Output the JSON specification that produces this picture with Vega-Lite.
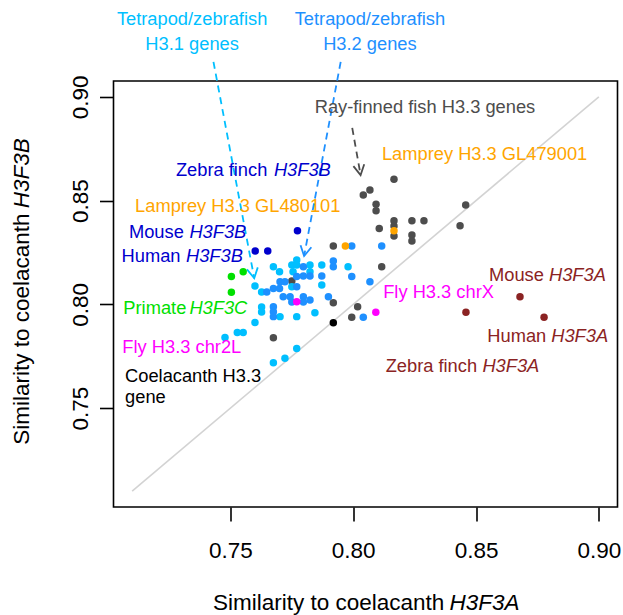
{
  "$schema": "https://vega.github.io/schema/vega-lite/v6.json",
  "width": 504,
  "height": 426,
  "autosize": {"type": "none"},
  "padding": {"left": 113.5, "top": 81, "right": 5.5, "bottom": 108},
  "background": "white",
  "config": {
    "view": {"stroke": "black", "strokeWidth": 1.6},
    "font": "Liberation Sans"
  },
  "datasets": {
    "points": [
      {"x": 0.7750, "y": 0.8113, "group": "Ray-finned fish H3.3"},
      {"x": 0.7675, "y": 0.7839, "group": "Ray-finned fish H3.3"},
      {"x": 0.7919, "y": 0.8008, "group": "Ray-finned fish H3.3"},
      {"x": 0.8018, "y": 0.7989, "group": "Ray-finned fish H3.3"},
      {"x": 0.7994, "y": 0.7938, "group": "Ray-finned fish H3.3"},
      {"x": 0.7919, "y": 0.8281, "group": "Ray-finned fish H3.3"},
      {"x": 0.8116, "y": 0.8181, "group": "Ray-finned fish H3.3"},
      {"x": 0.8041, "y": 0.8527, "group": "Ray-finned fish H3.3"},
      {"x": 0.8068, "y": 0.8551, "group": "Ray-finned fish H3.3"},
      {"x": 0.8093, "y": 0.8482, "group": "Ray-finned fish H3.3"},
      {"x": 0.8093, "y": 0.8451, "group": "Ray-finned fish H3.3"},
      {"x": 0.8166, "y": 0.8603, "group": "Ray-finned fish H3.3"},
      {"x": 0.8106, "y": 0.8366, "group": "Ray-finned fish H3.3"},
      {"x": 0.8166, "y": 0.8403, "group": "Ray-finned fish H3.3"},
      {"x": 0.8166, "y": 0.8378, "group": "Ray-finned fish H3.3"},
      {"x": 0.8166, "y": 0.8329, "group": "Ray-finned fish H3.3"},
      {"x": 0.8239, "y": 0.8403, "group": "Ray-finned fish H3.3"},
      {"x": 0.8288, "y": 0.8403, "group": "Ray-finned fish H3.3"},
      {"x": 0.8239, "y": 0.8334, "group": "Ray-finned fish H3.3"},
      {"x": 0.8239, "y": 0.8305, "group": "Ray-finned fish H3.3"},
      {"x": 0.8435, "y": 0.8379, "group": "Ray-finned fish H3.3"},
      {"x": 0.8458, "y": 0.8479, "group": "Ray-finned fish H3.3"},
      {"x": 0.7478, "y": 0.7841, "group": "H3.1"},
      {"x": 0.7528, "y": 0.7864, "group": "H3.1"},
      {"x": 0.7552, "y": 0.7864, "group": "H3.1"},
      {"x": 0.7600, "y": 0.8088, "group": "H3.1"},
      {"x": 0.7627, "y": 0.8060, "group": "H3.1"},
      {"x": 0.7600, "y": 0.7913, "group": "H3.1"},
      {"x": 0.7627, "y": 0.7987, "group": "H3.1"},
      {"x": 0.7627, "y": 0.7963, "group": "H3.1"},
      {"x": 0.7675, "y": 0.8181, "group": "H3.1"},
      {"x": 0.7700, "y": 0.8157, "group": "H3.1"},
      {"x": 0.7750, "y": 0.8190, "group": "H3.1"},
      {"x": 0.7770, "y": 0.8214, "group": "H3.1"},
      {"x": 0.7770, "y": 0.8190, "group": "H3.1"},
      {"x": 0.7755, "y": 0.8157, "group": "H3.1"},
      {"x": 0.7824, "y": 0.8190, "group": "H3.1"},
      {"x": 0.7872, "y": 0.8190, "group": "H3.1"},
      {"x": 0.7872, "y": 0.8093, "group": "H3.1"},
      {"x": 0.7750, "y": 0.8085, "group": "H3.1"},
      {"x": 0.7702, "y": 0.7941, "group": "H3.1"},
      {"x": 0.7770, "y": 0.7941, "group": "H3.1"},
      {"x": 0.7844, "y": 0.7960, "group": "H3.1"},
      {"x": 0.7770, "y": 0.7788, "group": "H3.1"},
      {"x": 0.7722, "y": 0.7740, "group": "H3.1"},
      {"x": 0.7675, "y": 0.7719, "group": "H3.1"},
      {"x": 0.7979, "y": 0.8181, "group": "H3.1"},
      {"x": 0.7824, "y": 0.8157, "group": "H3.1"},
      {"x": 0.7648, "y": 0.8060, "group": "H3.2"},
      {"x": 0.7675, "y": 0.8077, "group": "H3.2"},
      {"x": 0.7700, "y": 0.8077, "group": "H3.2"},
      {"x": 0.7702, "y": 0.8109, "group": "H3.2"},
      {"x": 0.7722, "y": 0.8109, "group": "H3.2"},
      {"x": 0.7675, "y": 0.7989, "group": "H3.2"},
      {"x": 0.7675, "y": 0.7965, "group": "H3.2"},
      {"x": 0.7675, "y": 0.7941, "group": "H3.2"},
      {"x": 0.7715, "y": 0.8037, "group": "H3.2"},
      {"x": 0.7743, "y": 0.8037, "group": "H3.2"},
      {"x": 0.7750, "y": 0.8011, "group": "H3.2"},
      {"x": 0.7797, "y": 0.8181, "group": "H3.2"},
      {"x": 0.7797, "y": 0.8137, "group": "H3.2"},
      {"x": 0.7824, "y": 0.8137, "group": "H3.2"},
      {"x": 0.7872, "y": 0.8137, "group": "H3.2"},
      {"x": 0.7770, "y": 0.8134, "group": "H3.2"},
      {"x": 0.7770, "y": 0.8085, "group": "H3.2"},
      {"x": 0.7797, "y": 0.8037, "group": "H3.2"},
      {"x": 0.7824, "y": 0.8021, "group": "H3.2"},
      {"x": 0.7797, "y": 0.8011, "group": "H3.2"},
      {"x": 0.7899, "y": 0.8037, "group": "H3.2"},
      {"x": 0.7919, "y": 0.8209, "group": "H3.2"},
      {"x": 0.7919, "y": 0.8181, "group": "H3.2"},
      {"x": 0.7994, "y": 0.8281, "group": "H3.2"},
      {"x": 0.8116, "y": 0.8281, "group": "H3.2"},
      {"x": 0.7994, "y": 0.8134, "group": "H3.2"},
      {"x": 0.8068, "y": 0.8109, "group": "H3.2"},
      {"x": 0.8041, "y": 0.7938, "group": "H3.2"},
      {"x": 0.7968, "y": 0.8281, "group": "Lamprey H3.3"},
      {"x": 0.8166, "y": 0.8355, "group": "Lamprey H3.3"},
      {"x": 0.7773, "y": 0.8355, "group": "H3F3B"},
      {"x": 0.7601, "y": 0.8257, "group": "H3F3B"},
      {"x": 0.7652, "y": 0.8257, "group": "H3F3B"},
      {"x": 0.7552, "y": 0.8157, "group": "H3F3C"},
      {"x": 0.7504, "y": 0.8134, "group": "H3F3C"},
      {"x": 0.7504, "y": 0.8058, "group": "H3F3C"},
      {"x": 0.7770, "y": 0.8013, "group": "Fly H3.3"},
      {"x": 0.8092, "y": 0.7962, "group": "Fly H3.3"},
      {"x": 0.7919, "y": 0.7912, "group": "Coelacanth H3.3"},
      {"x": 0.8679, "y": 0.8037, "group": "H3F3A"},
      {"x": 0.8459, "y": 0.7962, "group": "H3F3A"},
      {"x": 0.8777, "y": 0.7938, "group": "H3F3A"}
    ],
    "diag": [
      {"x": 0.71, "y": 0.71, "group": "diag"},
      {"x": 0.90, "y": 0.90, "group": "diag"}
    ],
    "arrows": [
      {"arrow": "H3.1", "x": 0.7431, "y": 0.9168, "x2": 0.7597, "y2": 0.8126, "group": "H3.1"},
      {"arrow": "H3.2", "x": 0.7949, "y": 0.9168, "x2": 0.7800, "y2": 0.8233, "group": "H3.2"},
      {"arrow": "fish", "x": 0.7996, "y": 0.8850, "x2": 0.8030, "y2": 0.8623, "group": "Ray-finned fish H3.3"}
    ],
    "arrowheads": [
      {"arrow": "H3.1", "x": 0.7597, "y": 0.8126, "group": "H3.1"},
      {"arrow": "H3.2", "x": 0.7800, "y": 0.8233, "group": "H3.2"},
      {"arrow": "fish", "x": 0.8030, "y": 0.8623, "group": "Ray-finned fish H3.3"}
    ],
    "labels_center": [
      {"x": 0.7344, "y": 0.9370, "text": "Tetrapod/zebrafish", "group": "H3.1"},
      {"x": 0.7344, "y": 0.9249, "text": "H3.1 genes", "group": "H3.1"},
      {"x": 0.8068, "y": 0.9370, "text": "Tetrapod/zebrafish", "group": "H3.2"},
      {"x": 0.8068, "y": 0.9249, "text": "H3.2 genes", "group": "H3.2"},
      {"x": 0.8292, "y": 0.8946, "text": "Ray-finned fish H3.3 genes", "group": "Ray-finned fish H3.3"}
    ],
    "labels_left": [
      {"x": 0.8117, "y": 0.8720, "text": "Lamprey H3.3 GL479001", "group": "Lamprey H3.3"},
      {"x": 0.7278, "y": 0.8644, "text": "Zebra finch", "group": "H3F3B"},
      {"x": 0.7112, "y": 0.8468, "text": "Lamprey H3.3 GL480101", "group": "Lamprey H3.3"},
      {"x": 0.7087, "y": 0.8342, "text": "Mouse", "group": "H3F3B"},
      {"x": 0.7057, "y": 0.8227, "text": "Human", "group": "H3F3B"},
      {"x": 0.7064, "y": 0.7976, "text": "Primate", "group": "H3F3C"},
      {"x": 0.7060, "y": 0.7791, "text": "Fly H3.3 chr2L", "group": "Fly H3.3"},
      {"x": 0.7071, "y": 0.7652, "text": "Coelacanth H3.3", "group": "Coelacanth H3.3"},
      {"x": 0.7071, "y": 0.7548, "text": "gene", "group": "Coelacanth H3.3"},
      {"x": 0.8122, "y": 0.8053, "text": "Fly H3.3 chrX", "group": "Fly H3.3"},
      {"x": 0.8553, "y": 0.8138, "text": "Mouse", "group": "H3F3A"},
      {"x": 0.8546, "y": 0.7844, "text": "Human", "group": "H3F3A"},
      {"x": 0.8132, "y": 0.7697, "text": "Zebra finch", "group": "H3F3A"}
    ],
    "labels_italic": [
      {"x": 0.7677, "y": 0.8644, "text": "H3F3B", "group": "H3F3B"},
      {"x": 0.7333, "y": 0.8342, "text": "H3F3B", "group": "H3F3B"},
      {"x": 0.7319, "y": 0.8227, "text": "H3F3B", "group": "H3F3B"},
      {"x": 0.7333, "y": 0.7976, "text": "H3F3C", "group": "H3F3C"},
      {"x": 0.8797, "y": 0.8138, "text": "H3F3A", "group": "H3F3A"},
      {"x": 0.8806, "y": 0.7844, "text": "H3F3A", "group": "H3F3A"},
      {"x": 0.8526, "y": 0.7697, "text": "H3F3A", "group": "H3F3A"}
    ],
    "xtitle": [
      {"x": 0.7429, "y": 0.6562, "text": "Similarity to coelacanth", "group": "Coelacanth H3.3"}
    ],
    "xtitle_italic": [
      {"x": 0.8392, "y": 0.6562, "text": "H3F3A", "group": "Coelacanth H3.3"}
    ],
    "ytitle": [
      {"x": 0.66515, "y": 0.7324, "text": "Similarity to coelacanth", "group": "Coelacanth H3.3"}
    ],
    "ytitle_italic": [
      {"x": 0.66515, "y": 0.8463, "text": "H3F3B", "group": "Coelacanth H3.3"}
    ]
  },
  "encoding": {
    "x": {
      "field": "x", "type": "quantitative",
      "scale": {"domain": [0.7024, 0.9076], "nice": false, "zero": false},
      "axis": {
        "values": [0.75, 0.8, 0.85, 0.9], "format": ".2f", "title": null,
        "domain": false, "grid": false, "tickSize": 14, "tickWidth": 1.6, "tickColor": "black",
        "labelFontSize": 22.5, "labelColor": "black", "labelFont": "Liberation Sans",
        "labelPadding": 36, "labelBaseline": "alphabetic", "labelFlush": false, "labelOverlap": false
      }
    },
    "y": {
      "field": "y", "type": "quantitative",
      "scale": {"domain": [0.7024, 0.9076], "nice": false, "zero": false},
      "axis": {
        "values": [0.75, 0.8, 0.85, 0.9], "format": ".2f", "title": null,
        "domain": false, "grid": false, "tickSize": 14, "tickWidth": 1.6, "tickColor": "black",
        "labelFontSize": 22.5, "labelColor": "black", "labelFont": "Liberation Sans",
        "labelAngle": 270, "labelAlign": "center", "labelBaseline": "alphabetic",
        "labelPadding": 12, "labelFlush": false, "labelOverlap": false
      }
    },
    "color": {
      "field": "group", "type": "nominal", "legend": null,
      "scale": {
        "domain": ["H3.1", "H3.2", "Ray-finned fish H3.3", "Lamprey H3.3", "H3F3B", "H3F3C", "Fly H3.3", "Coelacanth H3.3", "H3F3A", "diag"],
        "range": ["#00BFFF", "#1E90FF", "#4D4D4D", "#FFA500", "#0000CD", "#00E000", "#FF00FF", "#000000", "#8B2323", "#D3D3D3"]
      }
    }
  },
  "layer": [
    {
      "data": {"name": "diag"},
      "mark": {"type": "line", "strokeWidth": 1.6},
      "encoding": {}
    },
    {
      "data": {"name": "arrows"},
      "mark": {"type": "rule", "strokeWidth": 1.8, "strokeDash": [7, 5]},
      "encoding": {
        "x2": {"field": "x2"},
        "y2": {"field": "y2"}
      }
    },
    {
      "data": {"name": "arrowheads"},
      "transform": [{"filter": "datum.arrow === 'H3.1'"}],
      "mark": {"type": "point", "shape": "M-0.55,-1L0,0L0.55,-1", "filled": false, "size": 400, "strokeWidth": 1.8, "opacity": 1, "angle": 349.3},
      "encoding": {}
    },
    {
      "data": {"name": "arrowheads"},
      "transform": [{"filter": "datum.arrow === 'H3.2'"}],
      "mark": {"type": "point", "shape": "M-0.55,-1L0,0L0.55,-1", "filled": false, "size": 400, "strokeWidth": 1.8, "opacity": 1, "angle": 10.7},
      "encoding": {}
    },
    {
      "data": {"name": "arrowheads"},
      "transform": [{"filter": "datum.arrow === 'fish'"}],
      "mark": {"type": "point", "shape": "M-0.55,-1L0,0L0.55,-1", "filled": false, "size": 400, "strokeWidth": 1.8, "opacity": 1, "angle": 349.8},
      "encoding": {}
    },
    {
      "data": {"name": "points"},
      "mark": {"type": "point", "filled": true, "size": 56, "opacity": 1, "strokeWidth": 0},
      "encoding": {}
    },
    {
      "data": {"name": "labels_center"},
      "mark": {"type": "text", "align": "center", "baseline": "middle", "fontSize": 18.3, "font": "Liberation Sans"},
      "encoding": {"text": {"field": "text"}}
    },
    {
      "data": {"name": "labels_left"},
      "mark": {"type": "text", "align": "left", "baseline": "middle", "fontSize": 18.3, "font": "Liberation Sans"},
      "encoding": {"text": {"field": "text"}}
    },
    {
      "data": {"name": "labels_italic"},
      "mark": {"type": "text", "align": "left", "baseline": "middle", "fontSize": 18.3, "font": "Liberation Sans", "fontStyle": "italic"},
      "encoding": {"text": {"field": "text"}}
    },
    {
      "data": {"name": "xtitle"},
      "mark": {"type": "text", "align": "left", "baseline": "middle", "fontSize": 22.5, "font": "Liberation Sans"},
      "encoding": {"text": {"field": "text"}}
    },
    {
      "data": {"name": "xtitle_italic"},
      "mark": {"type": "text", "align": "left", "baseline": "middle", "fontSize": 22.5, "font": "Liberation Sans", "fontStyle": "italic"},
      "encoding": {"text": {"field": "text"}}
    },
    {
      "data": {"name": "ytitle"},
      "mark": {"type": "text", "align": "left", "baseline": "middle", "angle": 270, "fontSize": 22.5, "font": "Liberation Sans"},
      "encoding": {"text": {"field": "text"}}
    },
    {
      "data": {"name": "ytitle_italic"},
      "mark": {"type": "text", "align": "left", "baseline": "middle", "angle": 270, "fontSize": 22.5, "font": "Liberation Sans", "fontStyle": "italic"},
      "encoding": {"text": {"field": "text"}}
    }
  ]
}
